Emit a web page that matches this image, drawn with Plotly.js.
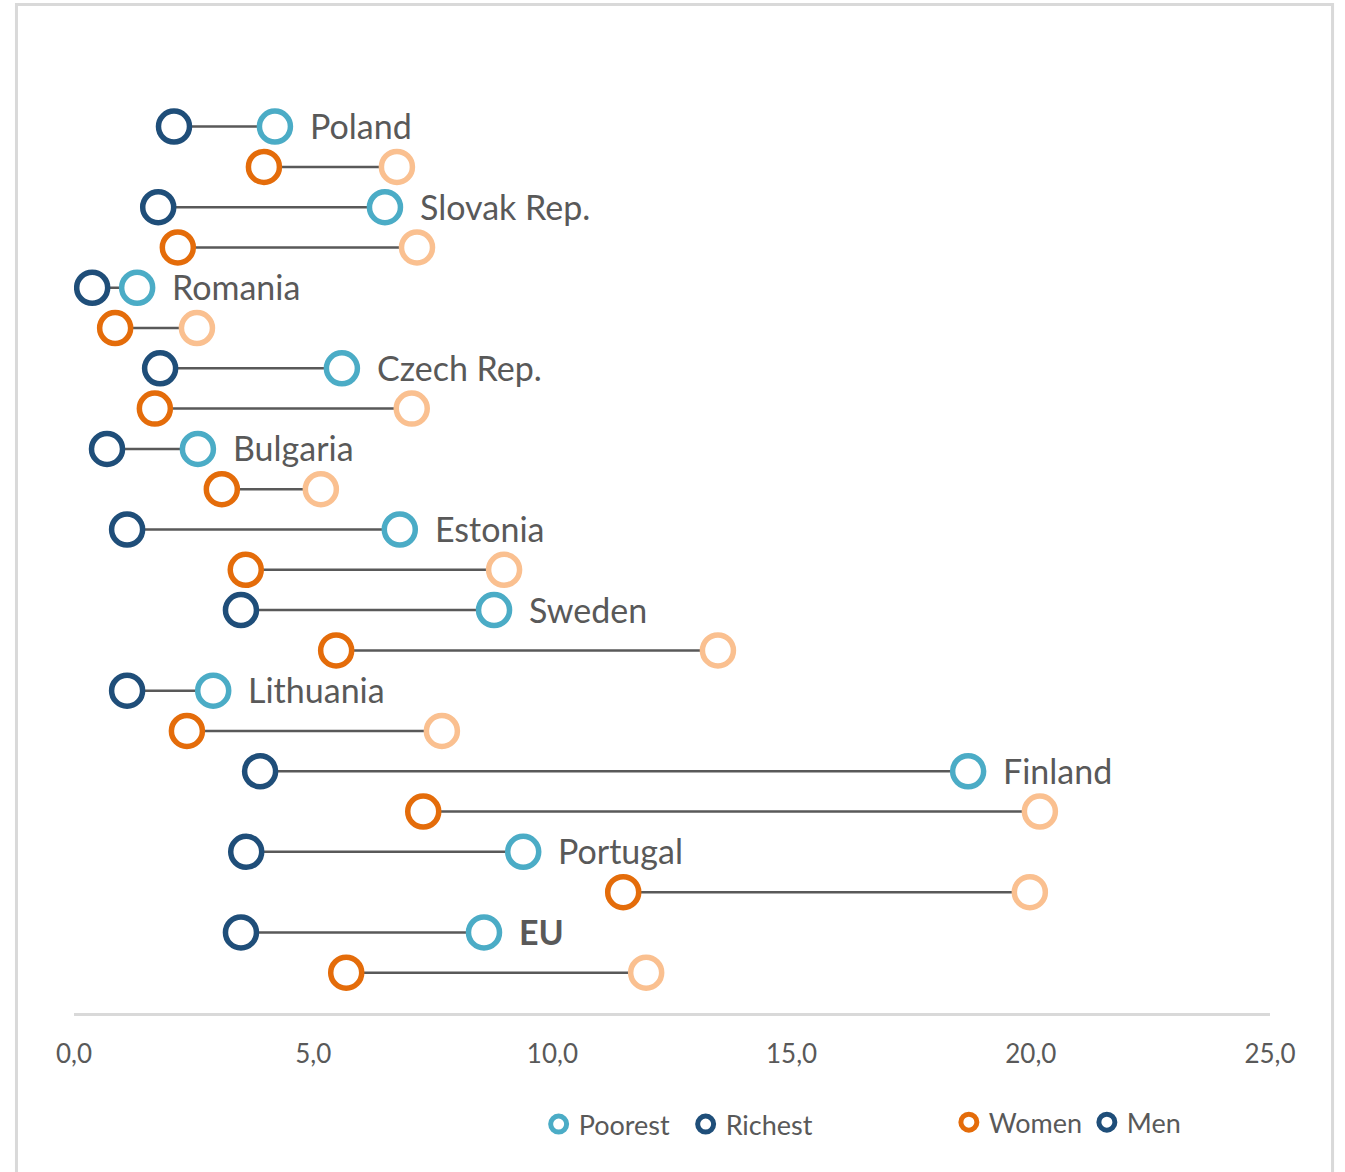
<!DOCTYPE html>
<html>
<head>
<meta charset="utf-8">
<script src="https://cdn.plot.ly/plotly-3.0.1.min.js"></script>
<style>
  html, body { margin: 0; padding: 0; background: #ffffff; }
  #chart { width: 1345px; height: 1172px; }
</style>
</head>
<body>
<div id="chart"></div>
<script>
// Countries, top to bottom
const countries = ['Poland', 'Slovak Rep.', 'Romania', 'Czech Rep.', 'Bulgaria', 'Estonia',
                   'Sweden', 'Lithuania', 'Finland', 'Portugal', 'EU'];

// Men: richest and poorest
const menRichest = [2.09, 1.76, 0.38, 1.80, 0.69, 1.11, 3.49, 1.11, 3.89, 3.60, 3.49];
const menPoorest = [4.20, 6.50, 1.32, 5.60, 2.59, 6.81, 8.78, 2.91, 18.69, 9.39, 8.57];

// Women: richest and poorest
const womenRichest = [3.97, 2.17, 0.86, 1.69, 3.09, 3.59, 5.48, 2.36, 7.30, 11.48, 5.69];
const womenPoorest = [6.75, 7.17, 2.57, 7.06, 5.16, 8.99, 13.46, 7.69, 20.19, 19.98, 11.96];

const xTicks = [0, 5, 10, 15, 20, 25];

const NAVY = '#1f4e79';
const LIGHT_BLUE = '#4bacc6';
const ORANGE = '#e46c0a';
const PEACH = '#fac090';
const CONNECTOR = '#595959';
const TEXT = '#595959';
const FONT = 'Lato, "Open Sans", sans-serif';

// Each country takes two rows: men on the first, women on the second
const menRow = countries.map((c, i) => 2 * i);
const womenRow = countries.map((c, i) => 2 * i + 1);

// Connector segments between richest and poorest of each row
const segX = [], segY = [];
countries.forEach((c, i) => {
  segX.push(menRichest[i], menPoorest[i], null, womenRichest[i], womenPoorest[i], null);
  segY.push(menRow[i], menRow[i], null, womenRow[i], womenRow[i], null);
});

function ring(color) {
  return { symbol: 'circle', size: 31, color: '#ffffff', line: { color: color, width: 5.5 } };
}

function key(color) {
  return { symbol: 'circle', size: 16, color: '#ffffff', line: { color: color, width: 5 } };
}

const traces = [
  { x: segX, y: segY, mode: 'lines', line: { color: CONNECTOR, width: 2.5 },
    hoverinfo: 'skip', showlegend: false },
  { x: menRichest, y: menRow, mode: 'markers', marker: ring(NAVY), showlegend: false, name: 'Men, richest' },
  { x: menPoorest, y: menRow, mode: 'markers', marker: ring(LIGHT_BLUE), showlegend: false, name: 'Men, poorest' },
  { x: womenRichest, y: womenRow, mode: 'markers', marker: ring(ORANGE), showlegend: false, name: 'Women, richest' },
  { x: womenPoorest, y: womenRow, mode: 'markers', marker: ring(PEACH), showlegend: false, name: 'Women, poorest' },
  // Legend keys
  { x: [null], y: [null], mode: 'markers', name: 'Poorest', legend: 'legend', marker: key(LIGHT_BLUE) },
  { x: [null], y: [null], mode: 'markers', name: 'Richest', legend: 'legend', marker: key(NAVY) },
  { x: [null], y: [null], mode: 'markers', name: 'Women', legend: 'legend2', marker: key(ORANGE) },
  { x: [null], y: [null], mode: 'markers', name: 'Men', legend: 'legend2', marker: key(NAVY) }
];

// Country names to the right of the men's poorest marker
const annotations = countries.map((c, i) => ({
  x: menPoorest[i], y: menRow[i], xref: 'x', yref: 'y',
  text: c === 'EU' ? '<b>' + c + '</b>' : c,
  showarrow: false, xanchor: 'left', yanchor: 'middle', xshift: 33, yshift: 1,
  font: { family: FONT, size: 34, color: TEXT }
}));

const legendBase = {
  orientation: 'h', yanchor: 'top', xanchor: 'left',
  bgcolor: 'rgba(0,0,0,0)', borderwidth: 0,
  font: { family: FONT, size: 27, color: TEXT },
  itemclick: false, itemdoubleclick: false
};

const layout = {
  width: 1345, height: 1172,
  margin: { l: 74, r: 75, t: 46, b: 159 },
  paper_bgcolor: '#ffffff', plot_bgcolor: '#ffffff',
  separators: ', ',
  font: { family: FONT, color: TEXT },
  xaxis: {
    range: [0, 25], tickvals: xTicks, tickformat: '.1f',
    showgrid: false, zeroline: false,
    showline: true, linecolor: '#d9d9d9', linewidth: 3,
    ticks: '', ticklabelstandoff: 16,
    tickfont: { family: FONT, size: 26, color: TEXT },
    fixedrange: true
  },
  yaxis: {
    range: [22, -2], showgrid: false, zeroline: false, showline: false,
    showticklabels: false, ticks: '', fixedrange: true
  },
  legend: Object.assign({}, legendBase, { x: 0.3885, y: -0.090, entrywidth: 102 }),
  legend2: Object.assign({}, legendBase, { x: 0.7315, y: -0.088, entrywidth: 93 }),
  annotations: annotations,
  shapes: [{
    type: 'rect', xref: 'paper', yref: 'paper',
    x0: -0.0481, x1: 1.0523, y0: -0.175, y1: 1.0429,
    line: { color: '#d9d9d9', width: 3 }, fillcolor: 'rgba(0,0,0,0)', layer: 'below'
  }]
};

Plotly.newPlot('chart', traces, layout, { displayModeBar: false, staticPlot: true });
</script>
</body>
</html>
